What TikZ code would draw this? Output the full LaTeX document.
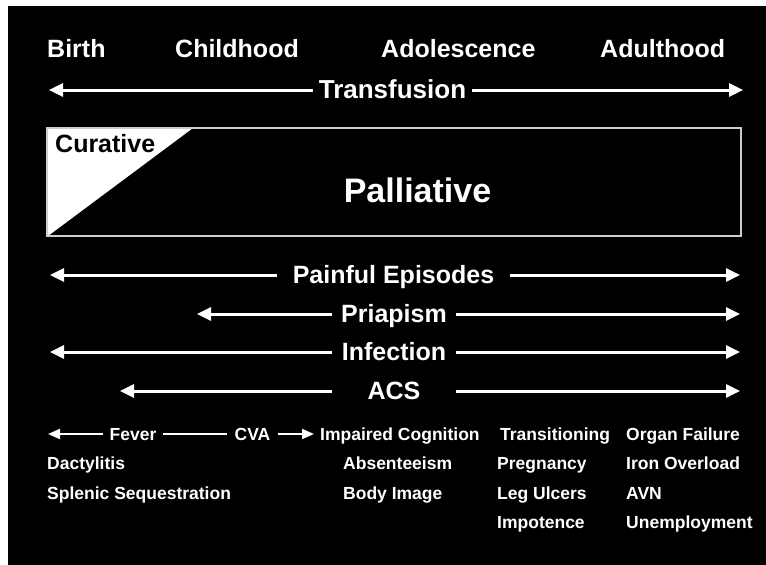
\documentclass[tikz,border=0pt]{standalone}
\usepackage{fontspec}
\setmainfont{Liberation Sans}
\usetikzlibrary{arrows.meta}
\begin{document}
\begin{tikzpicture}[x=1pt,y=-1pt,
  lbl/.style={inner sep=0pt, text height=17.9pt, text depth=0pt,
    font=\bfseries\fontsize{25}{30}\selectfont, text=white},
  small/.style={inner sep=0pt, text height=12.5pt, text depth=0pt,
    font=\bfseries\fontsize{17.5}{21}\selectfont, text=white, anchor=west},
  bigarrow/.style={draw=white, line width=3pt, -{Triangle[length=14pt,width=13pt]}},
  smallarrow/.style={draw=white, line width=2pt, -{Triangle[length=12pt,width=10pt]}},
  plainline/.style={draw=white, line width=2pt},
]
\useasboundingbox (0,0) rectangle (766,565);
\fill[white] (0,0) rectangle (766,565);
\fill[black] (8,6) rectangle (766,565);

% life stages
\node[lbl, anchor=west] (birth) at (47,49) {Birth};
\node[lbl, anchor=west] (child) at (175,49) {Childhood};
\node[lbl, anchor=west] (adol)  at (381,49) {Adolescence};
\node[lbl, anchor=west] (adult) at (600,49) {Adulthood};

% transfusion span
\node[lbl, minimum width=159pt, font=\bfseries\fontsize{26}{31}\selectfont] (transf) at (392.5,90) {Transfusion};
\coordinate (transfL) at (49,90);
\coordinate (transfR) at (743,90);
\draw[bigarrow] (transf.west) -- (transfL);
\draw[bigarrow] (transf.east) -- (transfR);

% curative / palliative band
\fill[white] (47,128) -- (193,128) -- (48,236) -- cycle;
\draw[white!80!black, line width=1.3pt] (47,128) rectangle (741,236);
\node[lbl, anchor=west, text=black] (cur) at (55,144) {Curative};
\node[lbl, text height=24.3pt, font=\bfseries\fontsize{34}{40}\selectfont] (pall) at (417.5,190) {Palliative};

% complications spanning the life course
\node[lbl, minimum width=233pt] (pain) at (393.5,275) {Painful Episodes};
\coordinate (painL) at (50,275);
\coordinate (painR) at (740,275);
\draw[bigarrow] (pain.west) -- (painL);
\draw[bigarrow] (pain.east) -- (painR);

\node[lbl, minimum width=124pt] (pria) at (394,314) {Priapism};
\coordinate (priaL) at (197,314);
\coordinate (priaR) at (740,314);
\draw[bigarrow] (pria.west) -- (priaL);
\draw[bigarrow] (pria.east) -- (priaR);

\node[lbl, minimum width=124pt] (infe) at (394,352) {Infection};
\coordinate (infeL) at (50,352);
\coordinate (infeR) at (740,352);
\draw[bigarrow] (infe.west) -- (infeL);
\draw[bigarrow] (infe.east) -- (infeR);

\node[lbl, minimum width=124pt] (acs) at (394,391) {ACS};
\coordinate (acsL) at (120,391);
\coordinate (acsR) at (740,391);
\draw[bigarrow] (acs.west) -- (acsL);
\draw[bigarrow] (acs.east) -- (acsR);

% age-specific issues
\node[small, anchor=center, minimum width=60pt] (fever) at (133,434) {Fever};
\node[small, anchor=center, minimum width=51pt] (cva) at (252.5,434) {CVA};
\node[small] (cogn)  at (320,434) {Impaired Cognition};
\node[small] (trans) at (500,434) {Transitioning};
\node[small] (organ) at (626,434) {Organ Failure};
\coordinate (feverL) at (48,434);
\draw[smallarrow] (fever.west) -- (feverL);
\draw[plainline] (fever.east) -- (cva.west);
\draw[smallarrow] (cva.east) -- ([xshift=-6pt]cogn.west);

\node[small] (dact)  at (47,463)  {Dactylitis};
\node[small] (absen) at (343,463) {Absenteeism};
\node[small] (preg)  at (497,463) {Pregnancy};
\node[small] (iron)  at (626,463) {Iron Overload};

\node[small] (splen) at (47,493)  {Splenic Sequestration};
\node[small] (body)  at (343,493) {Body Image};
\node[small] (leg)   at (497,493) {Leg Ulcers};
\node[small] (avn)   at (626,493) {AVN};

\node[small] (impot) at (497,522) {Impotence};
\node[small] (unemp) at (626,522) {Unemployment};
\end{tikzpicture}
\end{document}
